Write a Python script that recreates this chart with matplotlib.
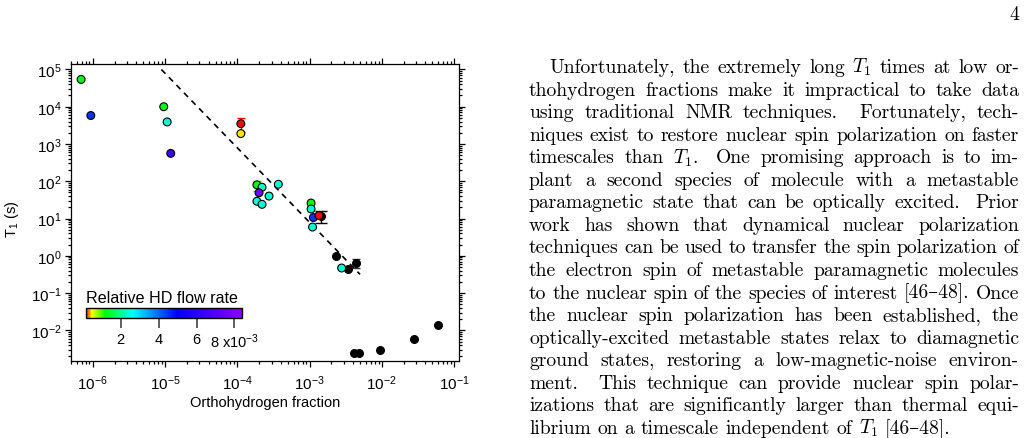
import numpy as np
import matplotlib
matplotlib.use("Agg")
import matplotlib.pyplot as plt
from matplotlib import ticker
from matplotlib.colors import LinearSegmentedColormap, Normalize
from matplotlib.transforms import IdentityTransform

plt.rcParams['font.family'] = ['Liberation Sans', 'DejaVu Sans']

# points with HD: orthohydrogen fraction, T1 (s), relative HD flow rate
x_col = [6.9e-7, 9.4e-7, 9.6e-6, 1.07e-5, 1.2e-5, 1.12e-4, 1.12e-4,
         3.7e-4, 1.87e-4, 2.2e-4, 2.0e-4, 2.75e-4, 1.87e-4, 2.2e-4,
         1.05e-3, 1.05e-3, 1.1e-3, 1.13e-3, 1.35e-3, 2.78e-3]
t1_col = [5.4e4, 5.8e3, 1.0e4, 3.9e3, 5.6e2, 3.5e3, 1.9e3,
          83, 80, 69, 49, 40, 29, 24,
          26, 18, 5.9, 10.6, 12, 0.47]
flow_col = [1.2e-3, 4.5e-3, 1.2e-3, 2.4e-3, 6.4e-3, 0.17e-3, 0.45e-3,
            2.4e-3, 1.2e-3, 2.4e-3, 7.6e-3, 2.4e-3, 2.4e-3, 2.4e-3,
            1.2e-3, 2.4e-3, 2.4e-3, 4.5e-3, 0.17e-3, 2.4e-3]

# points without HD flow (black)
x_blk = [1.45e-3, 2.3e-3, 3.45e-3, 4.4e-3, 4.1e-3, 4.9e-3, 9.3e-3, 2.8e-2, 6.0e-2]
t1_blk = [11.5, 1.0, 0.44, 0.63, 2.5e-3, 2.5e-3, 2.9e-3, 6.0e-3, 1.35e-2]

# error bars
err_x = [1.12e-4, 1.87e-4, 1.45e-3, 4.4e-3]
err_t1 = [3.5e3, 80, 11.5, 0.63]
err_dt1 = [1.4e3, 24, 4.0, 0.17]
err_color = ['red', '#22dd00', 'black', '#333333']
err_cap = [2.6, 2.6, 4.6, 2.6]

# dashed guide T1 = A * x^-2
fit_A = 7.9e-6
fit_x = [8.9e-6, 5.0e-3]

cbar_ticks = [2e-3, 4e-3, 6e-3, 8e-3]
cbar_labels = ['2', '4', '6', r'8 x10$\mathregular{^{-3}}$']

body_lines = [
    "Unfortunately, the extremely long $T_1$ times at low or-",
    "thohydrogen fractions make it impractical to take data",
    "using traditional NMR techniques. Fortunately, tech-",
    "niques exist to restore nuclear spin polarization on faster",
    "timescales than $T_1$. One promising approach is to im-",
    "plant a second species of molecule with a metastable",
    "paramagnetic state that can be optically excited. Prior",
    "work has shown that dynamical nuclear polarization",
    "techniques can be used to transfer the spin polarization of",
    "the electron spin of metastable paramagnetic molecules",
    "to the nuclear spin of the species of interest [46\u201348]. Once",
    "the nuclear spin polarization has been established, the",
    "optically-excited metastable states relax to diamagnetic",
    "ground states, restoring a low-magnetic-noise environ-",
    "ment. This technique can provide nuclear spin polar-",
    "izations that are significantly larger than thermal equi-",
    "librium on a timescale independent of $T_1$ [46\u201348].",
]

W, H = 1026, 439
fig = plt.figure(figsize=(W / 100, H / 100), dpi=100)
ax = fig.add_axes([71 / W, (H - 362) / H, 388 / W, 297 / H])

cmap = LinearSegmentedColormap.from_list('rainbow_igor', [
    (0.0, '#ff0000'), (0.035, '#ffff00'), (0.12, '#00ff00'),
    (0.30, '#00ffff'), (0.58, '#0000ff'), (1.0, '#8800ff')])
norm = Normalize(vmin=0.17e-3, vmax=8.4e-3)

xf = np.array(fit_x)
ax.plot(xf, fit_A / xf**2, color='black', lw=1.2, ls=(0, (3.5, 3)), zorder=1)

for xe, ye, de, ce, cs in zip(err_x, err_t1, err_dt1, err_color, err_cap):
    ax.errorbar(xe, ye, yerr=de, fmt='none', ecolor=ce, elinewidth=1,
                capsize=cs, capthick=1, zorder=2)

ax.scatter(x_blk, t1_blk, s=32, c='black', edgecolors='black', linewidths=0.8, zorder=3)
sc = ax.scatter(x_col, t1_col, s=32, c=flow_col, cmap=cmap, norm=norm,
                edgecolors='black', linewidths=0.8, zorder=4)

ax.set_xscale('log')
ax.set_yscale('log')
ax.set_xlim(5.0e-7, 0.117)
ax.set_ylim(1.5e-3, 1.4e5)

fmt = ticker.FuncFormatter(lambda v, p: r'$\mathregular{10^{%d}}$' % round(np.log10(v)))
for axis in (ax.xaxis, ax.yaxis):
    axis.set_major_locator(ticker.LogLocator(base=10, numticks=20))
    axis.set_minor_locator(ticker.LogLocator(base=10, subs=np.arange(2, 10), numticks=20))
    axis.set_major_formatter(fmt)
    axis.set_minor_formatter(ticker.NullFormatter())

ax.tick_params(which='both', direction='out', top=True, right=True,
               labeltop=False, labelright=False, labelsize=11, width=0.9)
ax.tick_params(which='major', length=4)
ax.tick_params(which='minor', length=2.2)
ax.tick_params(axis='x', pad=5)
ax.tick_params(axis='y', pad=3)
for sp in ax.spines.values():
    sp.set_linewidth(0.9)

ax.set_xlabel('Orthohydrogen fraction', fontsize=10.5)
ax.set_ylabel(r'$\mathregular{T_1}$ (s)', fontsize=10.5)
ax.xaxis.set_label_coords(0.5, -0.115)
ax.yaxis.set_label_coords(-0.128, 0.48)

cax = fig.add_axes([86 / W, (H - 319) / H, 156 / W, 10 / H])
cb = fig.colorbar(sc, cax=cax, orientation='horizontal')
cb.set_ticks(cbar_ticks)
cb.set_ticklabels(cbar_labels)
cb.outline.set_linewidth(1)
cax.tick_params(length=7, width=1.2, color='#444444', labelsize=10.5, pad=3)
fig.text(86, H - 303, 'Relative HD flow rate', fontsize=11.6,
         transform=IdentityTransform(), va='baseline', ha='left')

# right-hand text column, justified word by word
body_font = ['cmr10', 'DejaVu Serif']
renderer = fig.canvas.get_renderer()
col_left, col_right, indent = 529, 1019, 20
base0, skip = 73, 22.56


def make_word(w, size):
    return fig.text(0, 0, w, fontsize=size, family=body_font, math_fontfamily='cm',
                    transform=IdentityTransform(), va='baseline', ha='left')


def words_width(words, size):
    tot = 0
    for w in words:
        t = make_word(w, size)
        tot += t.get_window_extent(renderer).width
        t.remove()
    return tot


ref_words = body_lines[3].split()
em10 = 10 * 100 / 72
nat10 = words_width(ref_words, 10) + 0.333 * em10 * (len(ref_words) - 1)
size = 10 * (col_right - col_left - 2) / nat10
em = size * 100 / 72

for i, line in enumerate(body_lines):
    words = line.split()
    texts = [make_word(w, size) for w in words]
    widths = [t.get_window_extent(renderer).width for t in texts]
    x0 = col_left + (indent if i == 0 else 0)
    y = H - (base0 + i * skip)
    sentence = [w.endswith('.') for w in words[:-1]]
    nat = [0.444 * em if s else 0.333 * em for s in sentence]
    stretch = [3.0 if s else 1.0 for s in sentence]
    if i < len(body_lines) - 1:
        slack = (col_right - x0) - sum(widths) - sum(nat)
        gaps = [n + slack * s / sum(stretch) for n, s in zip(nat, stretch)]
    else:
        gaps = nat
    x = x0
    for k, t in enumerate(texts):
        t.set_position((x, y))
        x += widths[k] + (gaps[k] if k < len(gaps) else 0)

fig.text(col_right, H - 20, '4', fontsize=size, family=body_font,
         transform=IdentityTransform(), va='baseline', ha='right')

fig.savefig('out.png', dpi=100)
